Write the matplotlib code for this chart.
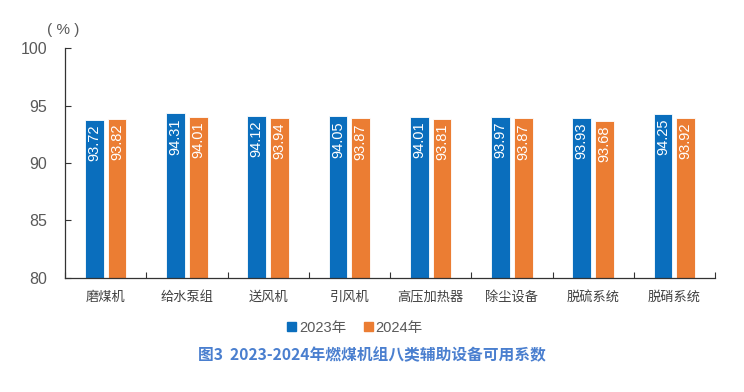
import matplotlib
matplotlib.use("Agg")
import matplotlib.pyplot as plt
import numpy as np
from matplotlib.patches import Patch

plt.rcParams['font.family'] = ['Noto Sans CJK SC', 'DejaVu Sans']

categories = ["磨煤机", "给水泵组", "送风机", "引风机", "高压加热器", "除尘设备", "脱硫系统", "脱硝系统"]
v2023 = [93.72, 94.31, 94.12, 94.05, 94.01, 93.97, 93.93, 94.25]
v2024 = [93.82, 94.01, 93.94, 93.87, 93.81, 93.87, 93.68, 93.92]
yticks = [80, 85, 90, 95, 100]
series_names = ["2023年", "2024年"]
title = "图3  2023-2024年燃煤机组八类辅助设备可用系数"

c_blue = "#0A6EBD"
c_orange = "#EB7D33"
grey = "#595959"
num_font = ['Liberation Sans', 'DejaVu Sans']

fig = plt.figure(figsize=(7.44, 3.92), dpi=100)
ax = fig.add_axes([65/744, 1-278/392, 650/744, 230/392])

x = np.arange(len(categories))
w = 0.23
off = 0.14
b1 = ax.bar(x - off, v2023, w, color=c_blue, edgecolor="white", linewidth=0.6)
b2 = ax.bar(x + off, v2024, w, color=c_orange, edgecolor="white", linewidth=0.6)

for bars, vals in ((b1, v2023), (b2, v2024)):
    for r, v in zip(bars, vals):
        ax.text(r.get_x() + r.get_width()/2, v - 0.4, f"{v:.2f}", rotation=90,
                ha="center", va="top", color="white", fontsize=10.5, family=num_font)

ax.set_ylim(80, 100)
ax.set_xlim(-0.5, len(categories) - 0.5)
ax.set_yticks(yticks)
ax.set_yticklabels([str(t) for t in yticks], family=num_font, fontsize=11.5, color=grey)
ax.tick_params(axis="y", direction="in", length=4, width=0.8, pad=13, colors="#333333", labelcolor=grey)

ax.set_xticks(x)
ax.set_xticklabels(categories, fontsize=9.5, color="#404040")
ax.tick_params(axis="x", length=0, pad=9)
ax.set_xticks(np.arange(len(categories) + 1) - 0.5, minor=True)
ax.tick_params(axis="x", which="minor", direction="in", length=4, width=0.8, colors="#333333")

for s in ("top", "right"):
    ax.spines[s].set_visible(False)
for s in ("left", "bottom"):
    ax.spines[s].set_color("#333333")
    ax.spines[s].set_linewidth(0.9)

fig.text(63/744, 1-30/392, "( % )", ha="center", va="center", fontsize=11, color=grey, family=num_font)

handles = [Patch(color=c_blue), Patch(color=c_orange)]
leg = fig.legend(handles, series_names, loc="center", bbox_to_anchor=(355/744, 1-328/392), ncol=2,
                 frameon=False, fontsize=10.5, handlelength=0.6, handleheight=0.6, handletextpad=0.2,
                 columnspacing=1.2, labelcolor=grey)
for t in leg.get_texts():
    t.set_family(['Liberation Sans', 'Noto Sans CJK SC'])

fig.text(372/744, 1-355/392, title, ha="center", va="center", fontsize=11.3, fontweight="bold", color="#4A7FCF")

fig.savefig("out.png", dpi=100, facecolor="white")
